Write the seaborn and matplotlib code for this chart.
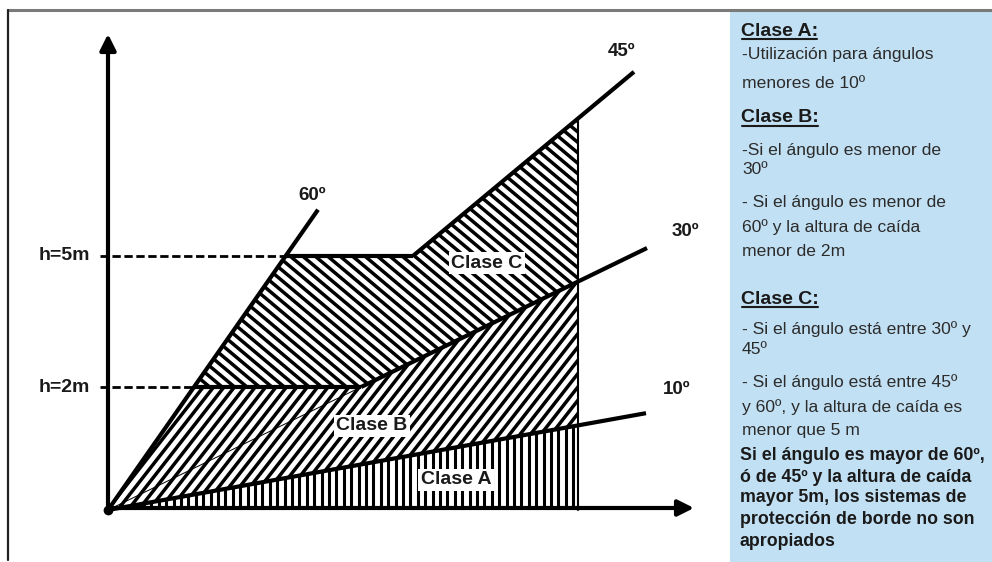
import numpy as np
import pandas as pd
import seaborn as sns
import matplotlib.pyplot as plt
from matplotlib.patches import Polygon, Rectangle
from matplotlib.collections import LineCollection

# ------------------------------------------------------------
# Datos del esquema (unidades del dibujo, origen en el vértice)
# ------------------------------------------------------------
angulos = ["60º", "45º", "30º", "10º"]
pendientes = [1.43, 0.833, 0.486, 0.18]
x_final = [210, 526, 539, 538]

alturas = ["h=2m", "h=5m"]
h_vals = [123, 254]

x_borde = 470  # límite derecho de las zonas rayadas
clases = ["Clase A", "Clase B", "Clase C"]

# texto del panel derecho: (tipo, texto)
panel = [
    ("titulo", "Clase A:"),
    ("normal", "-Utilización para ángulos"),
    ("normal", "menores de 10º"),
    ("titulo", "Clase B:"),
    ("normal", "-Si el ángulo es menor de"),
    ("normal", "30º"),
    ("normal", "- Si el ángulo es menor de"),
    ("normal", "60º y la altura de caída"),
    ("normal", "menor de 2m"),
    ("titulo", "Clase C:"),
    ("normal", "- Si el ángulo está entre 30º y"),
    ("normal", "45º"),
    ("normal", "- Si el ángulo está entre 45º"),
    ("normal", "y 60º, y la altura de caída es"),
    ("normal", "menor que 5 m"),
    ("negrita", "Si el ángulo es mayor de 60º,"),
    ("negrita", "ó de 45º y la altura de caída"),
    ("negrita", "mayor 5m, los sistemas de"),
    ("negrita", "protección de borde no son"),
    ("negrita", "apropiados"),
]

sns.set_theme(style="white")
plt.rcParams['font.family'] = ['Liberation Sans', 'DejaVu Sans']

fig = plt.figure(figsize=(9.92, 5.62), dpi=100)
ax = fig.add_axes([0, 0, 1, 1])
ax.set_xlim(-108, 884)
ax.set_ylim(-52, 510)
ax.axis("off")

m60, m45, m30, m10 = pendientes
h2, h5 = h_vals
xb = x_borde
x60_2, x60_5 = h2 / m60, h5 / m60
x30_2 = h2 / m30
x45_5 = h5 / m45

# marco y panel azul
ax.add_patch(Rectangle((622, -52), 270, 550, facecolor="#c2e0f3", edgecolor="none", zorder=0))
ax.plot([-100, 884], [500, 500], color="#7a7a7a", lw=2.2, zorder=1)
ax.plot([-100, -100], [500, -50], color="#222222", lw=1.6, zorder=1)


def rayado(pts, angulo, paso, lw=2.5):
    poly = Polygon(pts, closed=True, facecolor="white", edgecolor="none", zorder=2)
    ax.add_patch(poly)
    pts = np.array(pts)
    cx, cy = pts.mean(axis=0)
    R = np.hypot(*(pts.max(axis=0) - pts.min(axis=0)))
    a = np.deg2rad(angulo)
    d = np.array([np.cos(a), np.sin(a)])
    n = np.array([-np.sin(a), np.cos(a)])
    segs = []
    for o in np.arange(-R, R, paso):
        c = np.array([cx, cy]) + o * n
        segs.append([c - R * d, c + R * d])
    lc = LineCollection(segs, colors="black", linewidths=lw, zorder=3)
    ax.add_collection(lc)
    lc.set_clip_path(poly)


zona_a = [(0, 0), (xb, 0), (xb, m10 * xb)]
zona_b = [(0, 0), (xb, m10 * xb), (xb, m30 * xb), (x30_2, h2), (x60_2, h2)]
zona_c = [(x60_2, h2), (x30_2, h2), (xb, m30 * xb), (xb, m45 * xb), (x45_5, h5), (x60_5, h5)]
rayado(zona_a, 90, 7.4, lw=2.2)
rayado(zona_b, 52, 8.2)
rayado(zona_c, -40, 8.0)

# tramo oculto de la recta de 30º
ax.plot([0, x30_2], [0, h2], color="black", lw=0.7, zorder=4)

# rectas de los ángulos (tramos visibles)
inicio = [0, x45_5, x30_2, 0]
filas = []
for nom, m, x0, x1 in zip(angulos, pendientes, inicio, x_final):
    filas.append({"angulo": nom, "x": x0, "y": m * x0})
    filas.append({"angulo": nom, "x": x1, "y": m * x1})
# límites horizontales de altura
filas += [{"angulo": "h2", "x": x60_2, "y": h2}, {"angulo": "h2", "x": x30_2, "y": h2},
          {"angulo": "h5", "x": x60_5, "y": h5}, {"angulo": "h5", "x": x45_5, "y": h5}]
df = pd.DataFrame(filas)
sns.lineplot(data=df, x="x", y="y", units="angulo", estimator=None, sort=False,
             color="black", lw=3, ax=ax, legend=False, zorder=5,
             solid_capstyle="butt")
ax.plot([xb, xb], [0, m45 * xb], color="black", lw=1.5, zorder=5)
ax.axis("off")
ax.set_xlim(-108, 884)
ax.set_ylim(-52, 510)

# ejes con flecha
flecha = dict(arrowstyle="-|>", lw=3, color="black", mutation_scale=24, shrinkA=0, shrinkB=0)
ax.annotate("", xy=(0, 476), xytext=(0, 0), arrowprops=flecha, zorder=6)
ax.annotate("", xy=(586, 2), xytext=(0, 2), arrowprops=flecha, zorder=6)
ax.plot(0, 0, "o", color="black", ms=6, zorder=6)

# líneas discontinuas de altura
for lab, h, xi in zip(alturas, h_vals, [x60_2, x60_5]):
    ax.plot([-8, xi], [h, h], color="black", lw=2, ls=(0, (3, 1.3)), zorder=5)
    ax.text(-18, h, lab, ha="right", va="center", fontsize=14, fontweight="bold",
            color="#1a1a1a")

# etiquetas de ángulos
pos_ang = [(204, 314), (514, 458), (577, 278), (569, 120)]
for nom, (x, y) in zip(angulos, pos_ang):
    ax.text(x, y, nom, ha="center", va="center", fontsize=13.5, fontweight="bold",
            color="#1a1a1a")

# etiquetas de clase
pos_clase = [(348, 30), (264, 84), (379, 247)]
for nom, (x, y) in zip(clases, pos_clase):
    ax.text(x, y, nom, ha="center", va="center", fontsize=14, fontweight="bold", zorder=7,
            color="#1a1a1a", bbox=dict(facecolor="white", edgecolor="none", pad=2))

# panel de texto
y_panel = [31, 54, 83, 118, 151, 170, 202, 227, 251, 299, 329, 350, 382, 407, 430,
           455, 477, 498, 520, 542]
titulos = []
for (tipo, txt), py in zip(panel, y_panel):
    if tipo == "titulo":
        t = ax.text(633, 510 - py, txt, ha="left", va="center", fontsize=14,
                    fontweight="bold", color="#1a1a1a")
        titulos.append(t)
    elif tipo == "negrita":
        ax.text(632, 510 - py, txt, ha="left", va="center", fontsize=12.8,
                fontweight="bold", color="#1a1a1a")
    else:
        ax.text(634, 510 - py, txt, ha="left", va="center", fontsize=12.6, color="#2b2b2b")

fig.canvas.draw()
inv = ax.transData.inverted()
for t in titulos:
    bb = t.get_window_extent()
    (x0, y0), (x1, _) = inv.transform([[bb.x0, bb.y0], [bb.x1, bb.y1]])
    ax.plot([x0 + 1, x1 - 1], [y0 + 1, y0 + 1], color="#1a1a1a", lw=1.5)

fig.savefig("out.png", dpi=100)
